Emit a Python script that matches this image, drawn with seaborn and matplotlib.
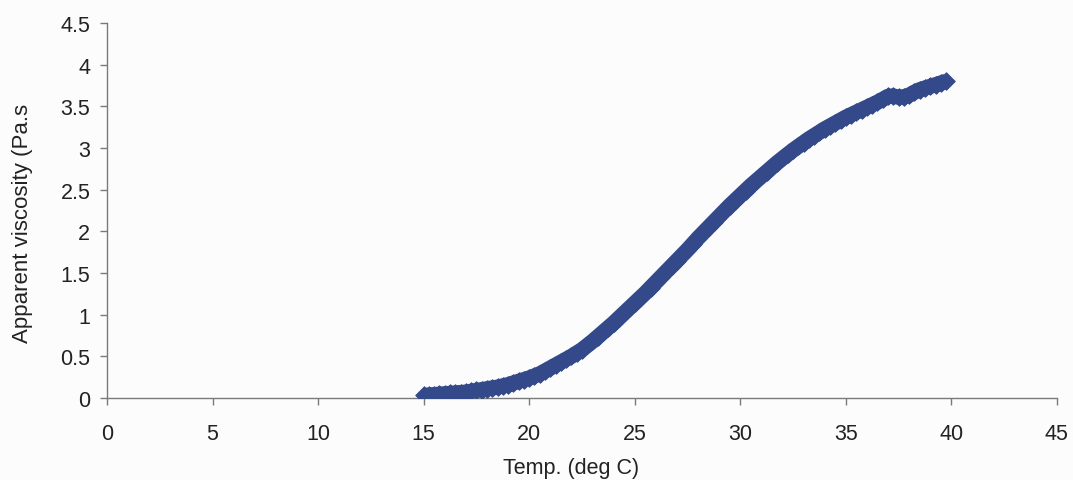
import matplotlib
matplotlib.use("Agg")
import matplotlib.pyplot as plt
import seaborn as sns
import pandas as pd

# Temperature sweep (deg C) and measured apparent viscosity (Pa.s)
temp_c = [
    15.00, 15.25, 15.50, 15.75, 16.00, 16.25, 16.50, 16.75, 17.00, 17.25,
    17.50, 17.75, 18.00, 18.25, 18.50, 18.75, 19.00, 19.25, 19.50, 19.75,
    20.00, 20.25, 20.50, 20.75, 21.00, 21.25, 21.50, 21.75, 22.00, 22.25,
    22.50, 22.75, 23.00, 23.25, 23.50, 23.75, 24.00, 24.25, 24.50, 24.75,
    25.00, 25.25, 25.50, 25.75, 26.00, 26.25, 26.50, 26.75, 27.00, 27.25,
    27.50, 27.75, 28.00, 28.25, 28.50, 28.75, 29.00, 29.25, 29.50, 29.75,
    30.00, 30.25, 30.50, 30.75, 31.00, 31.25, 31.50, 31.75, 32.00, 32.25,
    32.50, 32.75, 33.00, 33.25, 33.50, 33.75, 34.00, 34.25, 34.50, 34.75,
    35.00, 35.25, 35.50, 35.75, 36.00, 36.25, 36.50, 36.75, 37.00, 37.25,
    37.50, 37.75, 38.00, 38.25, 38.50, 38.75, 39.00, 39.25, 39.50, 39.75,
]
viscosity_pas = [
    0.030, 0.035, 0.040, 0.045, 0.050, 0.055, 0.060, 0.065, 0.070, 0.080,
    0.090, 0.100, 0.110, 0.120, 0.130, 0.145, 0.160, 0.180, 0.200, 0.220,
    0.240, 0.265, 0.290, 0.325, 0.360, 0.395, 0.430, 0.465, 0.500, 0.540,
    0.580, 0.630, 0.680, 0.735, 0.790, 0.845, 0.900, 0.960, 1.020, 1.080,
    1.140, 1.200, 1.260, 1.325, 1.390, 1.455, 1.520, 1.585, 1.650, 1.715,
    1.780, 1.850, 1.920, 1.985, 2.050, 2.115, 2.180, 2.245, 2.310, 2.370,
    2.430, 2.490, 2.550, 2.605, 2.660, 2.715, 2.770, 2.825, 2.875, 2.925,
    2.975, 3.020, 3.065, 3.110, 3.150, 3.190, 3.230, 3.265, 3.300, 3.335,
    3.370, 3.400, 3.430, 3.460, 3.490, 3.520, 3.550, 3.585, 3.620, 3.625,
    3.610, 3.615, 3.635, 3.670, 3.700, 3.720, 3.740, 3.760, 3.780, 3.800,
]

x_ticks = [0, 5, 10, 15, 20, 25, 30, 35, 40, 45]
y_ticks = [0, 0.5, 1, 1.5, 2, 2.5, 3, 3.5, 4, 4.5]
y_tick_labels = ["0", "0.5", "1", "1.5", "2", "2.5", "3", "3.5", "4", "4.5"]

df = pd.DataFrame({"temp": temp_c, "visc": viscosity_pas})

sns.set_theme(style="white")
plt.rcParams["font.family"] = ["Liberation Sans", "DejaVu Sans"]

ink = "#33498a"
axis_grey = "#7a7a7a"
text_col = "#222222"

fig = plt.figure(figsize=(10.73, 4.81), dpi=100, facecolor="#fcfcfd")
ax = fig.add_axes([0.0997, 0.1705, 0.8853, 0.7795])
ax.set_facecolor("#fcfcfd")

# Dense run of diamond markers, joined so the trace reads as one thick band
sns.lineplot(data=df, x="temp", y="visc", ax=ax, color=ink, linewidth=11,
             solid_capstyle="butt", legend=False, zorder=2)
sns.scatterplot(data=df, x="temp", y="visc", ax=ax, marker="D", s=78,
                color=ink, edgecolor=ink, linewidth=0.8,
                legend=False, zorder=3)

ax.set_xlim(0, 45)
ax.set_ylim(0, 4.5)
ax.set_xticks(x_ticks)
ax.set_xticklabels([str(t) for t in x_ticks])
ax.set_yticks(y_ticks)
ax.set_yticklabels(y_tick_labels)

for side in ("top", "right"):
    ax.spines[side].set_visible(False)
for side in ("left", "bottom"):
    ax.spines[side].set_color(axis_grey)
    ax.spines[side].set_linewidth(1.0)

ax.tick_params(axis="both", which="major", direction="out", length=5,
               width=1.0, color=axis_grey, labelsize=15.5,
               labelcolor=text_col, left=True, bottom=True)
ax.tick_params(axis="x", pad=13)
ax.tick_params(axis="y", pad=7)

ax.set_xlabel("Temp. (deg C)", fontsize=15.5, color=text_col)
ax.xaxis.set_label_coords(0.489, -0.158)
ax.xaxis.label.set_verticalalignment("top")

ax.set_ylabel("Apparent viscosity (Pa.s", fontsize=16, color=text_col)
ax.yaxis.set_label_coords(-0.078, 0.467)

fig.savefig("out.png", dpi=100, facecolor=fig.get_facecolor())
